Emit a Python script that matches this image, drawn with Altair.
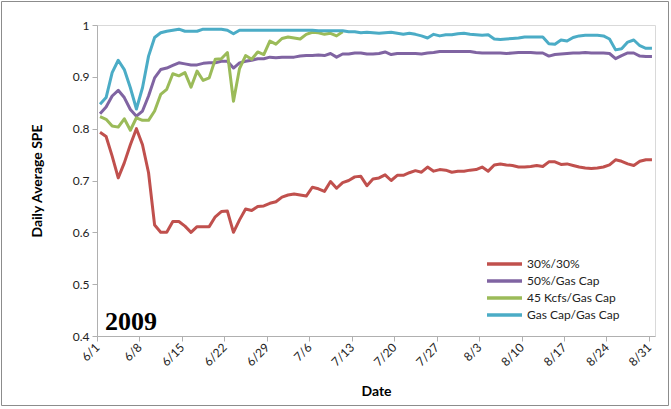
import altair as alt
import pandas as pd

SERIES = ["30%/30%", "50%/Gas Cap", "45 Kcfs/Gas Cap", "Gas Cap/Gas Cap"]
COLORS = ["#C0504D", "#8064A2", "#9BBB59", "#4BACC6"]
START = "2009-06-01"
N_DAYS = 92
TICK_DATES = ["2009-06-01", "2009-06-08", "2009-06-15", "2009-06-22", "2009-06-29",
              "2009-07-06", "2009-07-13", "2009-07-20", "2009-07-27", "2009-08-03",
              "2009-08-10", "2009-08-17", "2009-08-24", "2009-08-31"]
Y_TICKS = [0.4, 0.5, 0.6, 0.7, 0.8, 0.9, 1.0]

red = [0.793, 0.785, 0.747, 0.705, 0.734, 0.769, 0.800, 0.769, 0.715, 0.614,
       0.600, 0.600, 0.621, 0.621, 0.612, 0.600, 0.611, 0.611, 0.611, 0.630,
       0.640, 0.641, 0.600, 0.624, 0.645, 0.642, 0.650, 0.651, 0.656, 0.659,
       0.668, 0.672, 0.674, 0.672, 0.670, 0.687, 0.684, 0.679, 0.698, 0.685,
       0.696, 0.700, 0.707, 0.708, 0.690, 0.703, 0.705, 0.711, 0.700, 0.710,
       0.710, 0.715, 0.719, 0.716, 0.726, 0.718, 0.721, 0.720, 0.716, 0.718,
       0.718, 0.720, 0.721, 0.726, 0.718, 0.730, 0.732, 0.730, 0.729, 0.726,
       0.726, 0.727, 0.729, 0.727, 0.736, 0.736, 0.731, 0.732, 0.729, 0.726,
       0.724, 0.723, 0.724, 0.726, 0.730, 0.740, 0.737, 0.732, 0.729, 0.737,
       0.740, 0.740]

purple = [0.829, 0.842, 0.863, 0.874, 0.860, 0.837, 0.824, 0.834, 0.863, 0.898,
          0.914, 0.917, 0.922, 0.927, 0.925, 0.923, 0.923, 0.926, 0.927, 0.927,
          0.930, 0.930, 0.917, 0.927, 0.930, 0.932, 0.935, 0.935, 0.938, 0.937,
          0.938, 0.938, 0.938, 0.940, 0.941, 0.941, 0.942, 0.941, 0.945, 0.938,
          0.944, 0.944, 0.946, 0.946, 0.944, 0.944, 0.945, 0.948, 0.943, 0.945,
          0.945, 0.945, 0.945, 0.944, 0.946, 0.947, 0.949, 0.949, 0.949, 0.949,
          0.949, 0.949, 0.947, 0.946, 0.946, 0.946, 0.946, 0.945, 0.946, 0.947,
          0.947, 0.947, 0.946, 0.946, 0.940, 0.943, 0.944, 0.945, 0.946, 0.946,
          0.947, 0.946, 0.946, 0.946, 0.945, 0.935, 0.941, 0.946, 0.946, 0.940,
          0.939, 0.939]

green = [0.823, 0.818, 0.805, 0.803, 0.819, 0.797, 0.821, 0.816, 0.816, 0.834,
         0.866, 0.876, 0.906, 0.902, 0.908, 0.880, 0.911, 0.893, 0.898, 0.934,
         0.935, 0.947, 0.853, 0.916, 0.941, 0.934, 0.948, 0.943, 0.969, 0.963,
         0.974, 0.977, 0.975, 0.973, 0.982, 0.986, 0.985, 0.982, 0.984, 0.979,
         0.987]

cyan = [0.847, 0.860, 0.908, 0.932, 0.914, 0.879, 0.838, 0.879, 0.940, 0.976,
        0.985, 0.988, 0.990, 0.992, 0.988, 0.988, 0.988, 0.992, 0.992, 0.992,
        0.992, 0.990, 0.983, 0.990, 0.990, 0.990, 0.990, 0.990, 0.990, 0.990,
        0.990, 0.990, 0.990, 0.990, 0.990, 0.990, 0.989, 0.989, 0.989, 0.989,
        0.989, 0.987, 0.987, 0.985, 0.986, 0.985, 0.984, 0.985, 0.986, 0.984,
        0.982, 0.984, 0.982, 0.979, 0.975, 0.982, 0.979, 0.981, 0.981, 0.983,
        0.984, 0.982, 0.981, 0.980, 0.981, 0.973, 0.972, 0.973, 0.974, 0.975,
        0.977, 0.977, 0.977, 0.977, 0.964, 0.963, 0.971, 0.969, 0.976, 0.979,
        0.980, 0.980, 0.980, 0.979, 0.973, 0.952, 0.954, 0.967, 0.971, 0.960,
        0.955, 0.955]

DAY = 86400000


def ms(s):
    return int(pd.Timestamp(s, tz="UTC").value // 10**6)


start_ms = ms(START)
rows = []
for name, vals in zip(SERIES, [red, purple, green, cyan]):
    for i, v in enumerate(vals):
        rows.append({"date": start_ms + i * DAY + DAY // 2, "spe": v, "series": name})
df = pd.DataFrame(rows)

FONT = "Lato"
W, H = 558, 311
PAD = {"left": 97, "top": 25, "right": 16, "bottom": 73}

x_enc = alt.X(
    "date:T",
    scale=alt.Scale(type="utc", domain=[start_ms, start_ms + N_DAYS * DAY], nice=False),
    axis=alt.Axis(values=[ms(t) for t in TICK_DATES],
                  labelExpr="utcFormat(datum.value, '%-m/%-d')",
                  labelAngle=-45, labelAlign="right", labelBaseline="middle",
                  title="Date", titleFontWeight="bold", titleFontSize=14,
                  titlePadding=17, labelPadding=4, tickSize=5, grid=False),
)
y_enc = alt.Y(
    "spe:Q",
    scale=alt.Scale(domain=[0.4, 1.0], nice=False, zero=False),
    axis=alt.Axis(values=Y_TICKS, format="~g", title="Daily Average SPE",
                  titleFontWeight="bold", titleFontSize=14, titlePadding=28,
                  labelPadding=3, tickSize=5, grid=False),
)
color_enc = alt.Color(
    "series:N",
    scale=alt.Scale(domain=SERIES, range=COLORS),
    sort=SERIES,
    legend=alt.Legend(orient="none", legendX=388, legendY=232, title=None,
                      symbolType="stroke", symbolSize=1225, symbolStrokeWidth=3.5,
                      labelFontSize=12, labelFont=FONT, labelColor="#222222",
                      rowPadding=3, padding=0, labelOffset=3, clipHeight=14),
)

layers = []
for name in SERIES:
    layers.append(
        alt.Chart(df).transform_filter(alt.datum.series == name)
        .mark_line(strokeWidth=3, strokeJoin="round")
        .encode(x=x_enc, y=y_enc, color=color_enc)
    )

year_df = pd.DataFrame({"label": ["2009"], "date": [start_ms + int(1.3 * DAY)], "spe": [0.427]})
year_text = alt.Chart(year_df).mark_text(
    font="Liberation Serif", fontWeight="bold", fontSize=26, align="left",
    baseline="middle", color="#000000"
).encode(x=x_enc, y=y_enc, text="label:N")

border = alt.Chart(pd.DataFrame({"a": [0]})).mark_rect(
    fill="transparent", stroke="#8c8c8c", strokeWidth=1
).encode(
    x=alt.value(-PAD["left"] + 1.5), x2=alt.value(W + PAD["right"] - 2.5),
    y=alt.value(-PAD["top"] + 1.5), y2=alt.value(H + PAD["bottom"] - 3.5),
)

chart = alt.layer(*layers, year_text, border).properties(
    width=W, height=H, autosize=alt.AutoSizeParams(type="none"), padding=PAD,
    background="white",
).configure_view(
    stroke="#d9d9d9", strokeWidth=1
).configure_axis(
    labelFont=FONT, titleFont=FONT, labelFontSize=12, labelColor="#222222",
    titleColor="#000000", domainColor="#b0b0b0", tickColor="#b0b0b0", domainWidth=1,
)

chart.save("out.html", embed_options={"renderer": "svg", "actions": False})
